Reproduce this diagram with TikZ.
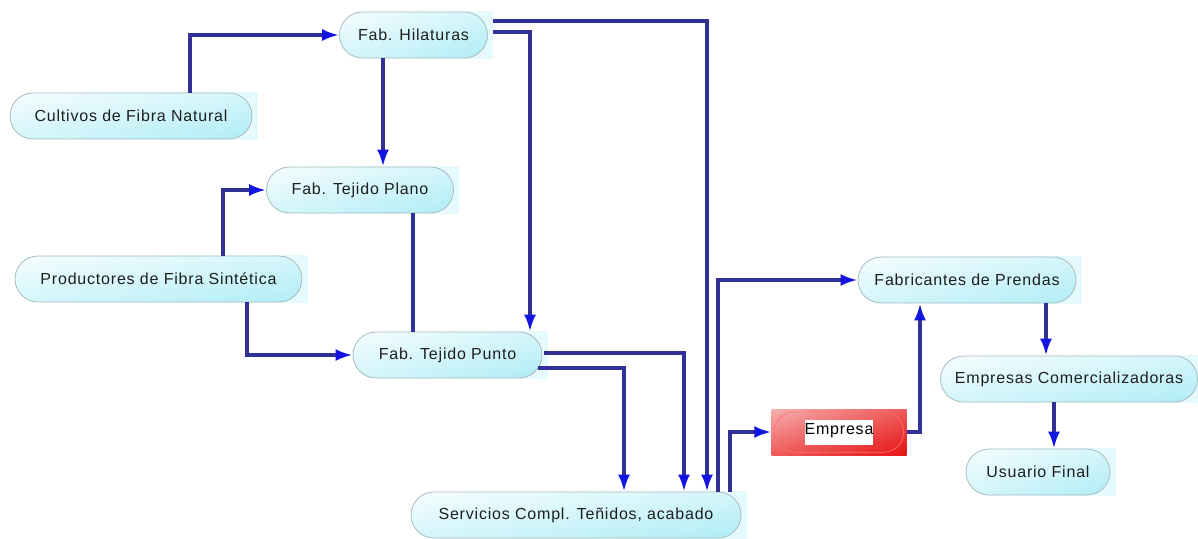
\documentclass[tikz,border=0pt]{standalone}
\usepackage{fontspec}
\setmainfont{Liberation Sans}[LetterSpace=5]
\usetikzlibrary{arrows.meta,shapes.misc,backgrounds,shadings}

\definecolor{linkblue}{RGB}{48,48,150}
\definecolor{tipblue}{RGB}{20,20,225}
\definecolor{pillR}{RGB}{176,236,245}
\definecolor{pillM}{RGB}{212,246,251}
\definecolor{pillW}{RGB}{246,253,254}
\definecolor{pillbg}{RGB}{228,250,253}
\definecolor{pillline}{RGB}{168,188,192}
\definecolor{redL}{RGB}{246,176,176}
\definecolor{redM}{RGB}{238,90,90}
\definecolor{redR}{RGB}{230,20,20}
\definecolor{txt}{RGB}{30,30,30}

\tikzset{
  pill/.style={rounded rectangle, minimum height=46pt, inner sep=0pt,
    draw=pillline, line width=0.8pt, text=txt,
    upper left=pillW, upper right=pillM, lower left=pillM, lower right=pillR,
    font=\fontsize{16}{19}\selectfont},
  redbox/.style={rectangle, minimum height=46pt, inner sep=0pt,
    upper left=redL, upper right=redM, lower left=redM, lower right=redR,
    text=black, font=\fontsize{16}{19}\selectfont},
  link/.style={draw=linkblue, line width=3.2pt},
  arr/.style={link, -{Latex[length=17pt,width=12pt,color=tipblue]}},
}

\begin{document}
\begin{tikzpicture}[x=1pt,y=-1pt]
\useasboundingbox (0,0) rectangle (1198,538);

% process nodes
\node[pill, minimum width=148pt] (hil)   at (413.5,35)  {Fab. Hilaturas};
\node[pill, minimum width=242pt] (cult)  at (131,116)   {Cultivos de Fibra Natural};
\node[pill, minimum width=187pt] (plano) at (360,190)   {Fab. Tejido Plano};
\node[pill, minimum width=287pt] (prod)  at (158.5,279) {Productores de Fibra Sintética};
\node[pill, minimum width=189pt] (punto) at (447.5,355) {Fab. Tejido Punto};
\node[pill, minimum width=330pt] (serv)  at (576,515)   {Servicios Compl. Teñidos, acabado};
\node[pill, minimum width=218pt] (fab)   at (967,280)   {Fabricantes de Prendas};
\node[pill, minimum width=257pt] (com)   at (1069,379)  {Empresas Comercializadoras};
\node[pill, minimum width=144pt] (usu)   at (1038,472)  {Usuario Final};
\node[redbox, minimum width=135pt] (emp) at (839,432)
  {\setlength{\fboxsep}{0pt}\colorbox{white}{\rule[-10pt]{0pt}{25pt}Empresa}};

% pale backing rectangles and the outline inside the red box
\begin{scope}[on background layer]
  \foreach \n in {hil,cult,plano,prod,punto,serv,fab,com,usu}
    \shade[left color=white, right color=pillbg]
      ([xshift=-1pt]\n.west |- \n.north) rectangle ([xshift=5pt]\n.east |- \n.south);
\end{scope}
\draw[red!55!white, line width=0.6pt, rounded corners=20pt]
  ([xshift=3pt,yshift=-3pt]emp.north west) rectangle ([xshift=-3pt,yshift=3pt]emp.south east);

% lane positions
\coordinate (cA) at (190,0);
\coordinate (cB) at (383,0);
\coordinate (cC) at (707,0);
\coordinate (cD) at (530,0);
\coordinate (cE) at (223,0);
\coordinate (cF) at (247,0);
\coordinate (cG) at (413,0);
\coordinate (cH) at (684,0);
\coordinate (cI) at (624,0);
\coordinate (cJ) at (718,0);
\coordinate (cK) at (730,0);
\coordinate (cL) at (920,0);
\coordinate (cM) at (1046,0);
\coordinate (cN) at (1054,0);
\coordinate (r1) at (0,21);
\coordinate (r2) at (0,32);
\coordinate (r3) at (0,353);
\coordinate (r4) at (0,368);

% connectors
\draw[arr] (cult.north -| cA) |- (hil.west);
\draw[arr] (hil.south -| cB) -- (plano.north -| cB);
\draw[arr] ([xshift=5pt]hil.east |- r1) -| (serv.north -| cC);
\draw[arr] ([xshift=5pt]hil.east |- r2) -| (punto.north -| cD);
\draw[arr] (prod.north -| cE) |- (plano.west);
\draw[arr] (prod.south -| cF) |- (punto.west);
\draw[link] (plano.south -| cG) -- (punto.north -| cG);
\draw[arr] ([xshift=2pt]punto.east |- r3) -| (serv.north -| cH);
\draw[arr] ([xshift=-4pt]punto.east |- r4) -| (serv.north -| cI);
\draw[arr] (serv.north -| cJ) |- (fab.west);
\draw[arr] (serv.north -| cK) |- (emp.west);
\draw[arr] (emp.east) -| (fab.south -| cL);
\draw[arr] (fab.south -| cM) -- (com.north -| cM);
\draw[arr] (com.south -| cN) -- (usu.north -| cN);
\end{tikzpicture}
\end{document}
